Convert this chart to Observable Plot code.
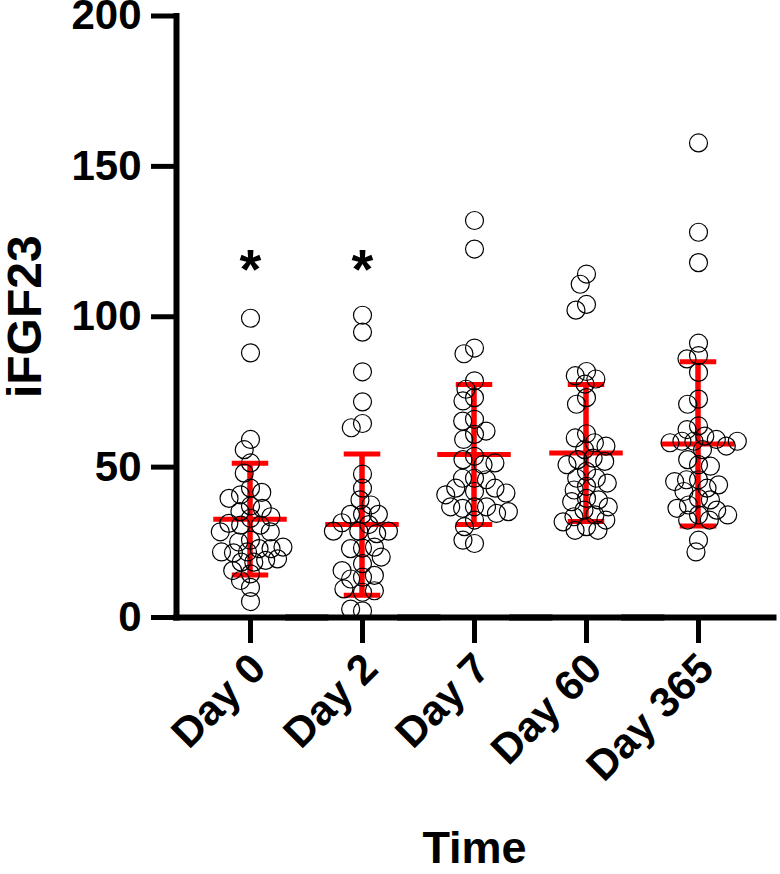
<!DOCTYPE html>
<html>
<head>
<meta charset="utf-8">
<script src="https://cdn.jsdelivr.net/npm/d3@7"></script>
<script src="https://cdn.jsdelivr.net/npm/@observablehq/plot@0.6"></script>
<style>
  html, body { margin: 0; padding: 0; background: #fff; }
  #chart svg { font-family: "Liberation Sans", Arial, sans-serif; font-weight: bold; }
</style>
</head>
<body>
<div id="chart"></div>
<script>
// ---- data ----
const groups = ["Day 0", "Day 2", "Day 7", "Day 60", "Day 365"];

const day0 = [99.5, 88.0, 59.2, 55.8, 51.4, 48.0, 43.0, 40.8, 41.6, 39.6, 37.1, 35.2, 36.3, 33.5, 33.0,
  30.7, 31.3, 30.7, 28.5, 28.5, 25.7, 25.1, 22.9, 21.8, 22.9, 21.5, 21.8, 23.4, 18.4, 18.4, 19.0, 19.5,
  15.6, 14.5, 12.3, 10.0, 5.3];
const day2 = [100.5, 94.9, 81.7, 71.7, 64.5, 63.1, 47.7, 43.0, 39.1, 37.4, 34.3, 34.3, 34.3, 30.9, 31.5,
  28.7, 27.9, 28.7, 28.7, 23.1, 22.9, 23.4, 20.1, 17.9, 13.4, 12.8, 14.0, 15.6, 8.4, 8.9, 9.5, 2.2, 2.8];
const day7 = [132.0, 122.5, 89.6, 87.7, 78.7, 75.9, 73.1, 72.0, 65.9, 65.3, 60.9, 62.0, 59.2, 53.6, 52.5,
  50.8, 51.4, 46.3, 46.3, 45.8, 43.0, 41.9, 43.0, 40.8, 41.4, 36.8, 36.3, 36.8, 34.6, 36.8, 35.2, 32.4,
  30.2, 24.6, 25.7];
const day60 = [114.2, 110.8, 104.1, 102.2, 81.8, 80.4, 79.3, 77.6, 73.1, 70.9, 61.1, 59.7, 58.1, 57.0, 55.8,
  53.0, 52.5, 51.9, 50.8, 48.6, 46.3, 46.3, 44.7, 43.6, 42.4, 39.6, 39.1, 38.5, 36.8, 35.7, 34.1, 33.5,
  32.4, 30.2, 31.8, 29.0, 29.0];
const day365 = [157.8, 128.1, 118.0, 91.2, 87.1, 86.0, 81.5, 72.6, 70.9, 63.7, 62.5, 60.3, 58.6, 58.6, 59.2,
  58.1, 55.8, 57.0, 58.6, 50.8, 52.5, 50.3, 45.8, 45.8, 43.0, 44.1, 45.2, 39.6, 41.9, 39.1, 37.4, 34.1,
  35.7, 36.3, 34.1, 32.4, 32.4, 25.7, 21.8];

const means = [32.7, 30.9, 54.2, 54.7, 57.7];
const sds = [18.6, 23.5, 23.3, 22.8, 27.3];

const yTicks = [0, 50, 100, 150, 200];
const sigGroups = ["Day 0", "Day 2"];
const sigLevel = 115.5;
const sigMark = "*";
const yLabel = "iFGF23";
const xLabel = "Time";

// ---- tables built from the arrays ----
const series = [day0, day2, day7, day60, day365];
const points = groups.flatMap((g, i) => series[i].map(v => ({group: g, value: v})));
const stats = groups.map((g, i) => ({group: g, mean: means[i], lo: means[i] - sds[i], hi: means[i] + sds[i]}));
const sig = sigGroups.map(g => ({group: g, y: sigLevel, text: sigMark}));
const baseline = groups.map(g => ({group: g, y: 0}));

const red = "#ff0000";

const chart = Plot.plot({
  width: 780,
  height: 874,
  marginLeft: 193,
  marginRight: 24.5,
  marginTop: 15.5,
  marginBottom: 257,
  style: {background: "#fff", overflow: "visible", fontFamily: "'Liberation Sans', Arial, sans-serif", fontWeight: "bold"},
  fx: {domain: groups, padding: 0, axis: null},
  y: {domain: [0, 200], axis: null},
  marks: [
    // error bars (mean ± SD)
    Plot.rect(stats, {fx: "group", y1: "lo", y2: "hi", fill: red, insetLeft: 53.25, insetRight: 53.25}),
    Plot.tickY(stats, {fx: "group", y: "mean", stroke: red, strokeWidth: 5, insetLeft: 19.25, insetRight: 19.25}),
    Plot.tickY(stats, {fx: "group", y: "hi", stroke: red, strokeWidth: 5, insetLeft: 37.75, insetRight: 37.75}),
    Plot.tickY(stats, {fx: "group", y: "lo", stroke: red, strokeWidth: 5, insetLeft: 37.75, insetRight: 37.75}),
    // individual points
    Plot.dot(points, Plot.dodgeX({anchor: "middle", padding: -6}, {fx: "group", y: "value", r: 9, stroke: "#000", strokeWidth: 1.2, fill: "none"})),
    // significance marks
    Plot.text(sig, {fx: "group", y: "y", text: "text", fontSize: 56, fontWeight: "bold", fill: "#000"}),
    // axes
    Plot.ruleY(baseline, {fx: "group", y: "y", stroke: "#000", strokeWidth: 6, insetLeft: -21, insetRight: -22.5}),
    Plot.frame({facet: "super", anchor: "left", dx: -18, stroke: "#000", strokeWidth: 6}),
    Plot.axisY({ticks: yTicks, facetAnchor: "left", anchor: "left", tickSize: 25, tickPadding: 10, strokeWidth: 5,
      fontSize: 42, fontWeight: "bold", dx: -18, label: null, tickFormat: d => String(d), fill: "#000", stroke: "#000"}),
    Plot.axisFx({anchor: "bottom", tickSize: 26, tickFormat: () => "", strokeWidth: 5, label: null, stroke: "#000"}),
    Plot.axisFx({anchor: "bottom", tickSize: 0, tickPadding: 44, dx: 8, tickRotate: -45, fontSize: 42,
      fontWeight: "bold", label: null, fill: "#000"}),
    // axis titles
    Plot.text([yLabel], {facet: "super", frameAnchor: "left", textAnchor: "middle", dx: -169, rotate: -90, fontSize: 48, fontWeight: "bold", text: d => d, fill: "#000"}),
    Plot.text([xLabel], {facet: "super", frameAnchor: "bottom", dy: 245, fontSize: 45, fontWeight: "bold", text: d => d, fill: "#000"})
  ]
});

document.getElementById("chart").appendChild(chart);
</script>
</body>
</html>
